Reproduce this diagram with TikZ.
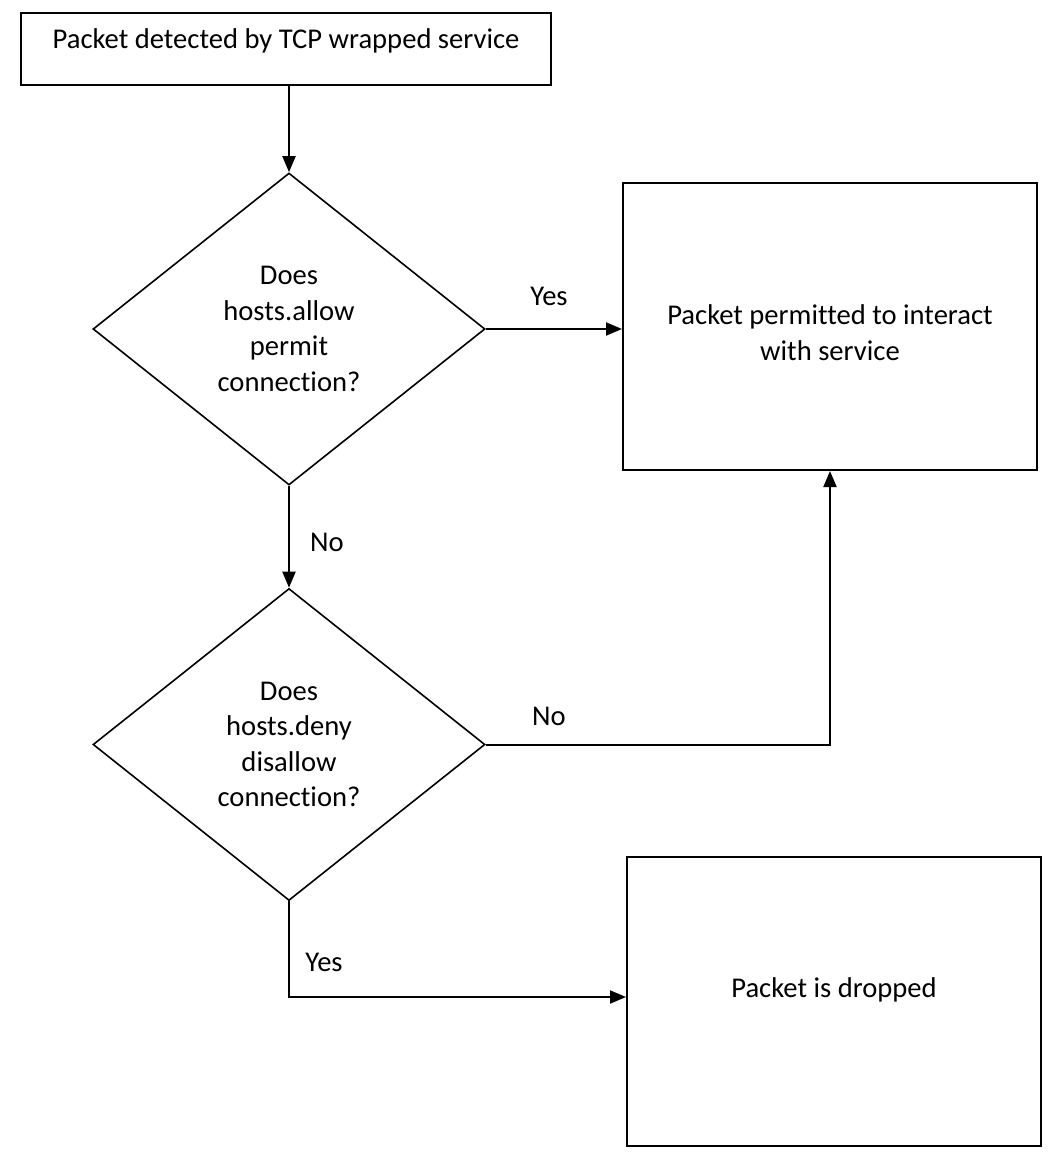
\documentclass[tikz,border=0pt]{standalone}
\usepackage{fontspec}
\setmainfont{Carlito}[Ligatures={NoCommon}]
\usetikzlibrary{shapes.geometric,arrows.meta}
\begin{document}
\begin{tikzpicture}[x=1pt,y=-1pt,
  every node/.style={font=\fontsize{28.6}{35.5}\selectfont},
  box/.style={draw,line width=2pt,rectangle,inner sep=0pt},
  dec/.style={draw,line width=1.6pt,diamond,inner sep=0pt,minimum width=392pt,minimum height=312pt,align=center},
  arr/.style={line width=2pt,-{Triangle[length=16pt,width=13pt]}},
  lbl/.style={inner sep=0pt}]
\useasboundingbox (0,0) rectangle (1058,1164);
\node[box,minimum width=530pt,minimum height=72pt,
  label={[yshift=8pt,align=center]center:Packet detected by TCP wrapped service}] (start) at (286,49) {};
\node[dec] (d1) at (289,329) {Does\\hosts.allow\\permit\\connection?};
\node[dec] (d2) at (289,744.5) {Does\\hosts.deny\\disallow\\connection?};
\node[box,minimum width=414pt,minimum height=287pt,
  label={[yshift=-6pt,align=center]center:Packet permitted to interact\\with service}] (permit) at (830,326.5) {};
\node[box,minimum width=414pt,minimum height=289pt,
  label={[yshift=12pt,align=center]center:Packet is dropped}] (drop) at (834,1001.5) {};
\node[lbl] (yes1) at (549,296) {Yes};
\node[lbl] (no1) at (327,542) {No};
\node[lbl] (no2) at (549,716) {No};
\node[lbl] (yes2) at (324,962) {Yes};
\draw[arr] (start.south -| d1.north) -- (d1.north);
\draw[arr] (d1.east) -- (d1.east -| permit.west);
\draw[arr] (d1) -- (d2);
\draw[arr] (d2.east) -| (permit.south);
\draw[arr] (d2.south) |- ([yshift=4.5pt]drop.west);
\end{tikzpicture}
\end{document}
